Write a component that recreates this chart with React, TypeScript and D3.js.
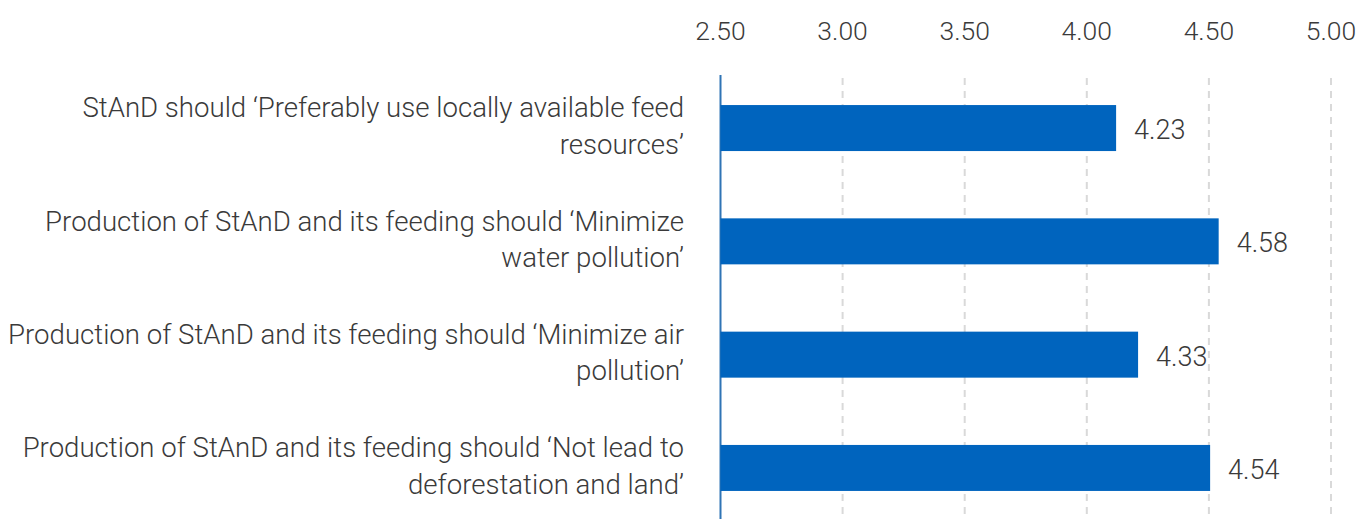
import React from "react";
import * as d3 from "d3";

// Category labels (each wrapped onto two lines as in the reference)
const categories: string[][] = [
  ["StAnD should ‘Preferably use locally available feed", "resources’"],
  ["Production of StAnD and its feeding should ‘Minimize", "water pollution’"],
  ["Production of StAnD and its feeding should ‘Minimize air", "pollution’"],
  ["Production of StAnD and its feeding should ‘Not lead to", "deforestation and land’"],
];

// Bar lengths as drawn against the axis in the reference
const barValues: number[] = [4.12, 4.54, 4.21, 4.505];

// Value labels printed beside the bars
const valueLabels: string[] = ["4.23", "4.58", "4.33", "4.54"];

// Axis ticks
const tickValues: number[] = [2.5, 3.0, 3.5, 4.0, 4.5, 5.0];

const W = 1357;
const H = 519;
const FONT = "Roboto, 'Liberation Sans', Arial, sans-serif";
const TEXT_COLOR = "#3a3a3a";
const BAR_COLOR = "#0064BE";

export default function App() {
  const x = d3.scaleLinear().domain([2.5, 5.0]).range([720.5, 1331]);
  const y = d3
    .scaleBand<number>()
    .domain(d3.range(categories.length))
    .range([71.4, 524.6])
    .paddingInner(0.594)
    .paddingOuter(0.297);

  const bw = y.bandwidth();

  return (
    <svg
      width={W}
      height={H}
      style={{ position: "absolute", left: 0, top: 0, background: "#fff" }}
      fontFamily={FONT}
    >
      {/* grid lines */}
      {tickValues.slice(1).map((t) => (
        <line
          key={"g" + t}
          x1={x(t)}
          x2={x(t)}
          y1={78}
          y2={H}
          stroke="#d9d9d9"
          strokeWidth={2}
          strokeDasharray="7 6"
        />
      ))}
      {/* tick labels */}
      {tickValues.map((t) => (
        <text
          key={"t" + t}
          x={x(t)}
          y={40}
          textAnchor="middle"
          fontSize={26.5}
          fontWeight={300}
          fill={TEXT_COLOR}
        >
          {d3.format(".2f")(t)}
        </text>
      ))}
      {/* axis line */}
      <line x1={x(2.5)} x2={x(2.5)} y1={75} y2={H} stroke="#2f74b5" strokeWidth={2} />
      {/* bars */}
      {barValues.map((v, i) => (
        <rect
          key={"b" + i}
          x={x(2.5)}
          y={y(i)!}
          width={x(v) - x(2.5)}
          height={bw}
          fill={BAR_COLOR}
        />
      ))}
      {/* value labels */}
      {barValues.map((v, i) => (
        <text
          key={"v" + i}
          x={x(v) + 18}
          y={y(i)! + bw / 2 + 2}
          dominantBaseline="central"
          fontSize={27}
          fontWeight={300}
          fill={TEXT_COLOR}
        >
          {valueLabels[i]}
        </text>
      ))}
      {/* category labels */}
      {categories.map((lines, i) => {
        const cy = y(i)! + bw / 2 - 2;
        const lh = 36.5;
        return (
          <text
            key={"c" + i}
            x={684}
            textAnchor="end"
            fontSize={27.6}
            fontWeight={300}
            fill={TEXT_COLOR}
          >
            {lines.map((ln, j) => (
              <tspan
                key={j}
                x={684}
                y={cy + (j - (lines.length - 1) / 2) * lh}
                dominantBaseline="central"
              >
                {ln}
              </tspan>
            ))}
          </text>
        );
      })}
    </svg>
  );
}
